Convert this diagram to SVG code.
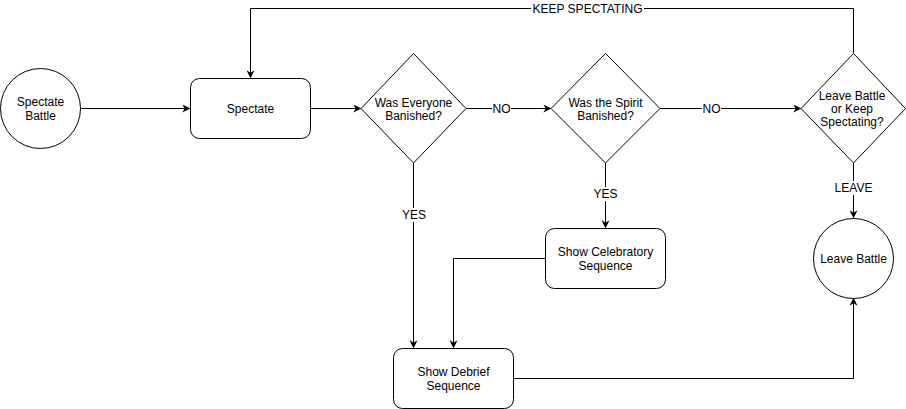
<svg xmlns="http://www.w3.org/2000/svg" width="906" height="409" viewBox="0 0 906 409">
<style>
.shape{fill:#fff;stroke:#000;stroke-width:1}
.edge{fill:none;stroke:#000;stroke-width:1}
.t{font-family:"Liberation Sans",Arial,sans-serif;font-size:12px;fill:#000;text-anchor:middle}
.lbl{font-family:"Liberation Sans",Arial,sans-serif;font-size:12px;fill:#000;text-anchor:middle}
.bg{fill:#fff}
</style>
<defs>
<marker id="arr" viewBox="0 0 10 10" refX="9" refY="5" markerWidth="8" markerHeight="8" markerUnits="userSpaceOnUse" orient="auto">
<path d="M0,0 L10,5 L0,10 L3,5 Z" fill="#000"/>
</marker>
</defs>
<rect width="906" height="409" fill="#fff"/>
<g id="connectors">
<path class="edge" d="M81,108.5 H189.5" marker-end="url(#arr)"/>
<path class="edge" d="M310.5,108.5 H360.5" marker-end="url(#arr)"/>
<path class="edge" d="M466,108.5 H550.5" marker-end="url(#arr)"/>
<path class="edge" d="M660,108.5 H800.5" marker-end="url(#arr)"/>
<path class="edge" d="M853.5,53 V8.5 H250.5 V77.5" marker-end="url(#arr)"/>
<path class="edge" d="M853.5,163 V217.5" marker-end="url(#arr)"/>
<path class="edge" d="M413.5,163 V347.5" marker-end="url(#arr)"/>
<path class="edge" d="M605.5,163 V227.5" marker-end="url(#arr)"/>
<path class="edge" d="M545.5,258.5 H453.5 V347.5" marker-end="url(#arr)"/>
<path class="edge" d="M513.5,378.5 H853.5 V298.5" marker-end="url(#arr)"/>
<rect class="bg" x="492" y="101" width="19" height="14"/>
<text class="lbl" x="501.5" y="112.5">NO</text>
<rect class="bg" x="702" y="101" width="19" height="14"/>
<text class="lbl" x="711.5" y="112.5">NO</text>
<rect class="bg" x="531" y="1" width="113" height="14"/>
<text class="lbl" x="587.5" y="12.5">KEEP SPECTATING</text>
<rect class="bg" x="833" y="181" width="41" height="14"/>
<text class="lbl" x="853.5" y="192">LEAVE</text>
<rect class="bg" x="401" y="208" width="26" height="14"/>
<text class="lbl" x="414" y="219">YES</text>
<rect class="bg" x="593" y="187" width="26" height="14"/>
<text class="lbl" x="605.5" y="198">YES</text>
</g>
<g id="spectate-battle">
<circle class="shape" cx="40.5" cy="108.5" r="40"/>
<text class="t" x="40.5" y="106">Spectate</text>
<text class="t" x="40.5" y="120">Battle</text>
</g>
<g id="spectate">
<rect class="shape" x="190.5" y="78.5" width="120" height="60" rx="9"/>
<text class="t" x="250.5" y="113">Spectate</text>
</g>
<g id="was-everyone-banished">
<polygon class="shape" points="413.5,53.5 466,108.5 413.5,163 361,108.5"/>
<text class="t" x="413.5" y="107">Was Everyone</text>
<text class="t" x="413.5" y="120">Banished?</text>
</g>
<g id="was-spirit-banished">
<polygon class="shape" points="605.5,53.5 660,108.5 605.5,163 551,108.5"/>
<text class="t" x="605.5" y="107">Was the Spirit</text>
<text class="t" x="605.5" y="120">Banished?</text>
</g>
<g id="leave-or-keep">
<polygon class="shape" points="853.5,53.5 905.5,108.5 853.5,163 801,108.5"/>
<text class="t" x="852" y="99.5">Leave Battle</text>
<text class="t" x="852" y="112.5">or Keep</text>
<text class="t" x="852" y="125.5">Spectating?</text>
</g>
<g id="show-celebratory">
<rect class="shape" x="545.5" y="228.5" width="120" height="60" rx="9"/>
<text class="t" x="605.5" y="256">Show Celebratory</text>
<text class="t" x="605.5" y="270">Sequence</text>
</g>
<g id="show-debrief">
<rect class="shape" x="393.5" y="348.5" width="120" height="60" rx="9"/>
<text class="t" x="453.5" y="376">Show Debrief</text>
<text class="t" x="453.5" y="390">Sequence</text>
</g>
<g id="leave-battle">
<circle class="shape" cx="853.5" cy="258.5" r="40"/>
<text class="t" x="853.5" y="263">Leave Battle</text>
</g>
</svg>
